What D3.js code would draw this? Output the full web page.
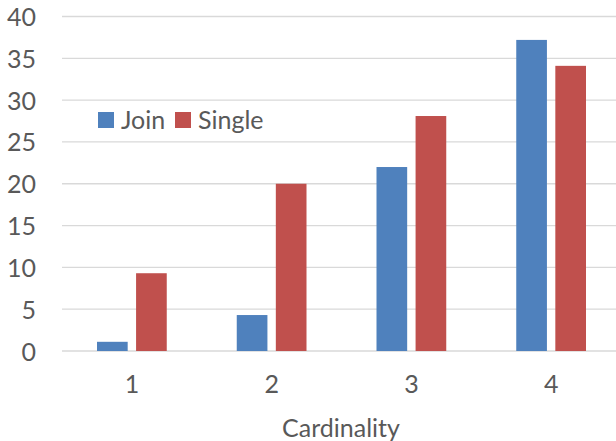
<!DOCTYPE html>
<html><head><meta charset="utf-8">
<script src="https://cdn.jsdelivr.net/npm/d3@7"></script>
<style>body{margin:0;background:#fff}svg{display:block}text{font-family:Lato,"Open Sans",sans-serif;fill:#595959}</style>
</head><body><svg id="c" width="616" height="441"></svg>
<script>
const categories = ["1","2","3","4"];
const seriesNames = ["Join","Single"];
const joinValues = [1.1, 4.3, 22.0, 37.2];
const singleValues = [9.3, 20.0, 28.1, 34.1];
const yTicks = [0,5,10,15,20,25,30,35,40];
const colors = ["#4f81bd","#c0504d"];

const svg = d3.select("#c");
const x = d3.scaleBand().domain(categories).range([62, 621]).paddingInner(0).paddingOuter(0);
const y = d3.scaleLinear().domain([0,40]).range([351, 16.5]);
const inner = d3.scaleBand().domain(seriesNames).range([35, x.bandwidth()-35]).paddingInner(0.215);

// grid
svg.append("g").selectAll("line").data(yTicks).join("line")
  .attr("x1",62).attr("x2",621).attr("y1",d=>y(d)).attr("y2",d=>y(d))
  .attr("stroke","#d9d9d9").attr("stroke-width",1.3);

// y labels via axis
const yAxis = svg.append("g").attr("transform","translate(36,0)")
  .call(d3.axisLeft(y).tickValues(yTicks).tickSize(0).tickPadding(0));
yAxis.select(".domain").remove();
yAxis.selectAll("text").attr("font-size",25).style("font-family","Lato").attr("fill","#595959").attr("dy","0.36em");

const data = categories.map((c,i)=>({c, vals:[joinValues[i], singleValues[i]]}));
const g = svg.append("g").selectAll("g").data(data).join("g").attr("transform",d=>`translate(${x(d.c)},0)`);
g.selectAll("rect").data(d=>d.vals.map((v,j)=>({v,s:seriesNames[j],j}))).join("rect")
  .attr("x",d=>inner(d.s)).attr("width",inner.bandwidth())
  .attr("y",d=>y(d.v)).attr("height",d=>y(0)-y(d.v)).attr("fill",d=>colors[d.j]);

// x labels
const xAxis = svg.append("g").attr("transform","translate(0,374)")
  .call(d3.axisBottom(x).tickSize(0).tickPadding(0));
xAxis.select(".domain").remove();
xAxis.selectAll("text").attr("font-size",25).style("font-family","Lato").attr("fill","#595959").attr("dy","0.75em");

svg.append("text").attr("x",341).attr("y",437).attr("text-anchor","middle").attr("font-size",25).text("Cardinality");

// legend
const leg = svg.append("g");
const legX = [98, 175];
seriesNames.forEach((s,i)=>{
  leg.append("rect").attr("x",legX[i]).attr("y",112).attr("width",16).attr("height",16).attr("fill",colors[i]);
  leg.append("text").attr("x",legX[i]+23).attr("y",128.5).attr("font-size",25).text(s);
});
</script></body></html>
